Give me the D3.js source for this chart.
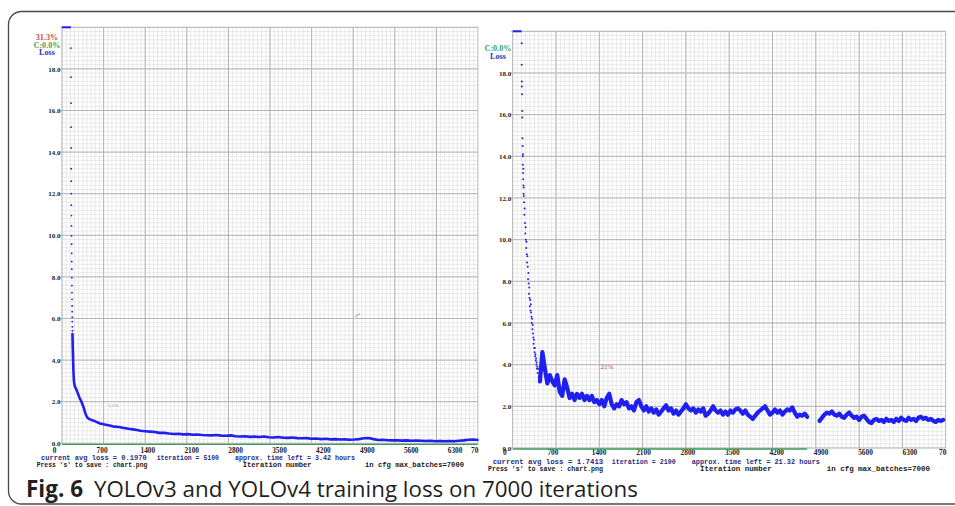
<!DOCTYPE html>
<html><head><meta charset="utf-8">
<script src="https://cdn.jsdelivr.net/npm/d3@7"></script>
<style>body{margin:0;background:#fff}svg{display:block}</style>
</head><body>
<svg id="c" width="955" height="506"></svg>
<script>
// ---------------- DATA ----------------
const xTicks = [0,700,1400,2100,2800,3500,4200,4900,5600,6300,7000];
const yTicks = [0,2,4,6,8,10,12,14,16,18];
const captionBold = "Fig. 6";
const captionText = "YOLOv3 and YOLOv4 training loss on 7000 iterations";

// YOLOv3 (left) — [iteration, loss]
const v3Burn = [[0,45],[50,35],[100,26],[140,21]];
const v3Column = [[150,19.0],[151,17.6],[152,16.35],[153,15.2],[154,14.2],[155,13.2],[156,12.6],[157,12.0],[158,11.45],[159,10.95],[160,10.45],[161,9.97],[162,9.57],[163,9.13],[164,8.73],[165,8.37],[166,7.96],[167,7.58],[168,7.24],[169,6.92],[170,6.6],[171,6.33],[172,6.06],[173,5.85],[174,5.6],[175,5.41]];
const v3Curve = [[176,5.25],[178,5.0],[180,4.7],[183,4.4],[186,4.1],[189,3.8],[192,3.5],[196,3.25],[200,3.05],[207,2.85],[220,2.7],[240,2.6],[260,2.45],[274,2.35],[300,2.15],[320,2.05],[340,1.9],[360,1.75],[375,1.62],[387,1.5],[400,1.4],[415,1.3],[430,1.22],[470,1.15],[520,1.1],[580,1.03],[640,0.95],[720,0.9],[800,0.86],[880,0.8],[960,0.78],[1040,0.74],[1120,0.7],[1195,0.67],[1260,0.64],[1320,0.6],[1400,0.58],[1480,0.56],[1560,0.54],[1640,0.5],[1720,0.5],[1800,0.47],[1880,0.45],[1960,0.46],[2040,0.43],[2120,0.44],[2200,0.41],[2280,0.42],[2360,0.4],[2440,0.39],[2520,0.38],[2600,0.4],[2680,0.37],[2760,0.36],[2840,0.38],[2920,0.34],[3000,0.33],[3080,0.34],[3160,0.31],[3240,0.32],[3320,0.3],[3400,0.33],[3480,0.29],[3560,0.28],[3640,0.3],[3720,0.27],[3800,0.26],[3880,0.28],[3960,0.25],[4040,0.24],[4120,0.25],[4200,0.22],[4280,0.23],[4360,0.2],[4440,0.22],[4520,0.19],[4600,0.2],[4680,0.18],[4760,0.19],[4840,0.17],[4920,0.18],[5000,0.2],[5080,0.24],[5160,0.25],[5240,0.2],[5320,0.16],[5400,0.17],[5480,0.15],[5560,0.14],[5640,0.15],[5720,0.13],[5800,0.14],[5880,0.12],[5960,0.13],[6040,0.12],[6120,0.11],[6200,0.12],[6280,0.1],[6360,0.11],[6440,0.1],[6520,0.11],[6600,0.1],[6680,0.12],[6760,0.14],[6840,0.17],[6920,0.18],[7000,0.16]];
const v3MapMarks = [[4964,6.17]];
const v3MapLabels = [[780,1.85,"1.1%"]];

// YOLOv4 (right)
const v4Burn = [[0,40],[40,32],[80,27],[120,23],[140,21]];
const v4Column = [[145,19.43],[146,18.39],[147,17.59],[148,17.35],[150,16.98],[152,16.18],[154,15.86],[157,14.87],[160,14.5],[162,14.0],[164,13.6],[166,14.1],[168,13.2],[170,12.9],[172,13.4],[174,12.6],[176,12.2],[178,12.5],[180,12.1],[183,11.8],[188,11.2],[193,11.5],[198,10.8],[203,10.3],[208,10.6],[213,10.0],[218,9.6],[223,9.9],[228,9.3],[233,8.9],[238,9.2],[243,8.7],[248,8.1],[253,8.4],[258,7.9],[263,7.4],[268,7.7],[273,7.2],[278,6.8],[283,7.1],[288,6.6],[293,6.9],[298,6.5],[303,6.3],[308,6.0],[313,6.2],[318,5.7],[323,5.9],[328,5.5],[333,5.3],[338,5.0],[343,5.2],[348,4.8],[353,4.6],[358,4.8],[363,4.4],[368,4.5],[373,4.2],[378,4.3],[383,4.0],[388,4.1],[393,3.8],[398,3.9],[403,3.6],[410,3.8],[420,3.4],[430,3.5]];
// loss every 40 iterations, from iteration 440 to 4760
const v4LossA = [3.2,4.6,3.8,3.1,3.5,3.2,3.0,3.5,2.7,2.5,3.3,2.9,2.4,2.6,2.3,2.6,2.4,2.6,2.3,2.5,2.3,2.5,2.2,2.3,2.1,2.3,2.0,2.4,2.6,2.1,1.9,2.1,2.0,2.3,2.1,2.2,1.9,2.0,1.8,2.2,2.3,2.0,1.8,2.0,1.75,1.9,1.7,1.85,1.6,1.75,1.9,2.05,1.8,1.9,1.65,1.8,1.6,1.75,1.9,2.1,1.9,1.8,1.9,1.7,1.85,1.75,1.9,1.55,1.65,1.8,2.0,1.8,1.7,1.8,1.6,1.75,1.6,1.8,1.7,1.85,1.9,1.8,1.65,1.8,1.6,1.5,1.4,1.55,1.7,1.8,1.9,2.0,1.8,1.6,1.7,1.85,1.7,1.8,1.6,1.75,1.85,1.8,1.95,1.7,1.5,1.6,1.55,1.65,1.5];
// loss every 40 iterations, from iteration 4960 to 6960
const v4LossB = [1.3,1.45,1.6,1.7,1.65,1.75,1.6,1.55,1.65,1.5,1.45,1.6,1.7,1.55,1.45,1.5,1.35,1.5,1.55,1.4,1.25,1.2,1.35,1.4,1.3,1.35,1.25,1.4,1.3,1.35,1.25,1.4,1.3,1.45,1.35,1.3,1.45,1.35,1.4,1.3,1.45,1.5,1.4,1.45,1.35,1.4,1.3,1.25,1.35,1.3,1.35];
const v4MapLine = [[0,4760]];
const v4MapLabels = [[1420,3.9,"21%"]];

const v3Info = ["current avg loss = 0.1970","iteration = 5100","approx. time left = 3.42 hours"];
const v4Info = ["current avg loss = 1.7413","iteration = 2100","approx. time left = 21.32 hours"];
const footer = ["Press 's' to save : chart.png","Iteration number","in cfg max_batches=7000"];
const v3Header = [["31.3%","#d04a4a"],["C:0.0%","#3f9f5f"],["Loss","#2a34c4"]];
const v4Header = [["C:0.0%","#3f9f5f"],["Loss","#2a34c4"]];

// ---------------- LAYOUT ----------------
const svg = d3.select("#c");
const BLUE = "#1f1ff0";
const SERIF = "'Liberation Serif','DejaVu Serif',serif";
const MONO = "'Liberation Mono','DejaVu Sans Mono',monospace";

svg.append("rect").attr("x",8.5).attr("y",11.5).attr("width",990).attr("height",492.5)
  .attr("rx",13).attr("fill","#fff").attr("stroke","#4a4a4a").attr("stroke-width",1.3);

function panel(P, D) {
  const g = svg.append("g");
  const cid = "clip" + P.id;
  svg.append("defs").append("clipPath").attr("id",cid).append("rect")
    .attr("x",P.clipL).attr("y",0).attr("width",P.clipR-P.clipL).attr("height",506);
  const c = g.append("g").attr("clip-path",`url(#${cid})`);
  const x = d3.scaleLinear().domain([0,7000]).range([P.ax,P.gx1]);
  const y = d3.scaleLinear().domain([0,20]).range([P.yBot,P.yTop]);
  const xl = d3.scaleLinear().domain([0,7000]).range([P.lab0,P.lab1]);

  // minor grid
  const minX = d3.range(0,7001,70), minY = d3.range(0,100.5,1).map(d=>d*0.2);
  c.append("g").selectAll("line").data(minX).join("line")
    .attr("x1",d=>x(d)).attr("x2",d=>x(d)).attr("y1",y(0)).attr("y2",y(20))
    .attr("stroke","#e3e3e3").attr("stroke-width",0.8);
  c.append("g").selectAll("line").data(minY).join("line")
    .attr("x1",x(0)).attr("x2",x(7000)).attr("y1",d=>y(d)).attr("y2",d=>y(d))
    .attr("stroke","#e3e3e3").attr("stroke-width",0.8);
  // major grid
  c.append("g").selectAll("line").data(xTicks).join("line")
    .attr("x1",d=>x(d)).attr("x2",d=>x(d)).attr("y1",y(0)).attr("y2",y(20))
    .attr("stroke","#b4b4b4").attr("stroke-width",1);
  c.append("g").selectAll("line").data(yTicks.concat([20])).join("line")
    .attr("x1",x(0)-2).attr("x2",x(7000)).attr("y1",d=>y(d)).attr("y2",d=>y(d))
    .attr("stroke","#b4b4b4").attr("stroke-width",1);

  // y axis labels
  const ya = c.append("g").attr("transform",`translate(${x(0)-1.5},0)`)
    .call(d3.axisLeft(y).tickValues(yTicks).tickFormat(d3.format(".1f")).tickSize(0).tickPadding(0));
  ya.select(".domain").remove();
  ya.selectAll("text").attr("font-family",SERIF).attr("font-weight",700)
    .attr("font-size",7).attr("fill","#222");
  // x axis labels
  const xa = c.append("g").attr("transform",`translate(0,${P.xlabY})`)
    .call(d3.axisBottom(xl).tickValues(xTicks).tickFormat(d3.format("d")).tickSize(0).tickPadding(0));
  xa.select(".domain").remove();
  xa.selectAll(".tick").attr("transform",d=>`translate(${Math.min(xl(d),P.clipR-7.5)},0)`);
  xa.selectAll("text").attr("text-anchor","start").attr("dy","0.35em").attr("y",0)
    .attr("font-family",SERIF).attr("font-weight",700)
    .attr("font-size",7.3).attr("fill","#222");

  // mAP (green) line at 0
  c.append("g").selectAll("line").data(D.mapLine).join("line")
    .attr("x1",d=>x(d[0])).attr("x2",d=>x(d[1])).attr("y1",y(0)+1).attr("y2",y(0)+1)
    .attr("stroke","#3c9c5c").attr("stroke-width",1.3);

  // header labels
  c.append("g").selectAll("text").data(D.header).join("text")
    .attr("x",P.hx).attr("y",(d,i)=>P.hy + i*7.3)
    .attr("text-anchor","middle").attr("font-family",SERIF).attr("font-weight",700)
    .attr("font-size",8.2).attr("fill",d=>d[1]).text(d=>d[0]);

  // red mAP marks
  c.append("g").selectAll("text").data(D.mapLabels).join("text")
    .attr("x",d=>x(d[0])).attr("y",d=>y(d[1])+2).attr("font-family",SERIF)
    .attr("font-size",D.mapFont).attr("fill","#d03838").attr("opacity",D.mapOpacity).text(d=>d[2]);
  c.append("g").selectAll("line").data(D.mapMarks).join("line")
    .attr("x1",d=>x(d[0])-2).attr("x2",d=>x(d[0])+3).attr("y1",d=>y(d[1])+2).attr("y2",d=>y(d[1])-1.5)
    .attr("stroke","#e06a6a").attr("stroke-width",0.9);

  // clipped (loss > 20) values drawn at top
  const clampY = d => y(Math.min(d[1],20));
  c.append("path").datum(D.burn.concat([D.column[0]].map(d=>[d[0],20])))
    .attr("d",d3.line().x(d=>x(d[0])).y(clampY))
    .attr("fill","none").attr("stroke",BLUE).attr("stroke-width",2);
  // sparse dots
  c.append("g").selectAll("circle").data(D.column).join("circle")
    .attr("cx",d=>x(d[0])).attr("cy",d=>y(d[1])).attr("r",D.dotR).attr("fill",BLUE);
  // dense curves
  D.curves.forEach(cv=>{
    c.append("path").datum(cv).attr("d",d3.line().x(d=>x(d[0])).y(d=>y(d[1])))
      .attr("fill","none").attr("stroke",BLUE).attr("stroke-width",D.lineW)
      .attr("stroke-linejoin","round").attr("stroke-linecap","round");
  });

  // info texts
  const info = g.append("g").attr("font-family",MONO).attr("font-weight",700);
  D.info.forEach((t,i)=>info.append("text").attr("x",P.infoX[i]).attr("y",P.infoY)
    .attr("font-size",P.infoFs).attr("fill","#1f2f86").attr("textLength",P.infoW[i])
    .attr("lengthAdjust","spacingAndGlyphs").text(t));
  footer.forEach((t,i)=>info.append("text").attr("x",P.footX[i]).attr("y",P.footY)
    .attr("font-size",P.footFs).attr("fill","#1a1a1a").attr("textLength",P.footW[i])
    .attr("lengthAdjust","spacingAndGlyphs").text(t));
}

panel({id:"L",ax:62,gx1:478,yTop:27.3,yBot:443.3,lab0:52.7,lab1:491.7,clipL:8,clipR:478.5,xlabY:450,
       hx:47,hy:40.3,infoX:[41,156.7,235],infoY:460,infoFs:7,infoW:[105.7,62.3,120],
       footX:[36.7,242.7,365],footY:467.3,footFs:6.4,footW:[110.6,69,99]},
      {burn:v3Burn,column:v3Column,curves:[v3Curve],lineW:2.6,dotR:0.9,
       mapLine:[[0,7000]],mapLabels:v3MapLabels,mapMarks:v3MapMarks,mapFont:5,mapOpacity:0.7,
       header:v3Header,info:v3Info});

const v4A = v4LossA.map((v,i)=>[440+i*40,v]);
const v4B = v4LossB.map((v,i)=>[4960+i*40,v]);
panel({id:"R",ax:512.7,gx1:945.7,yTop:31.3,yBot:448,lab0:503,lab1:947,clipL:479,clipR:946.5,xlabY:452.7,
       hx:498,hy:51.3,infoX:[492.7,611.7,691.7],infoY:463.6,infoFs:7.4,infoW:[110.6,64,128.3],
       footX:[488,700,826.7],footY:470.8,footFs:6.6,footW:[115,71.7,103.3]},
      {burn:v4Burn,column:v4Column,curves:[v4A,v4B],lineW:4.2,dotR:1.0,
       mapLine:v4MapLine,mapLabels:v4MapLabels,mapMarks:[],mapFont:7,mapOpacity:1,
       header:v4Header,info:v4Info});

// caption
function fitText(txt, x, yb, weight, target) {
  const t = svg.append("text").attr("x",x).attr("y",yb).attr("font-family","'Open Sans','Noto Sans',sans-serif")
    .attr("font-weight",weight).attr("font-size",20).attr("fill","#231f20").text(txt);
  const w = t.node().getComputedTextLength();
  t.attr("font-size", 20*target/w);
}
fitText(captionBold, 26, 497, 700, 57);
fitText(captionText, 94, 497, 400, 544);
</script>
</body></html>
